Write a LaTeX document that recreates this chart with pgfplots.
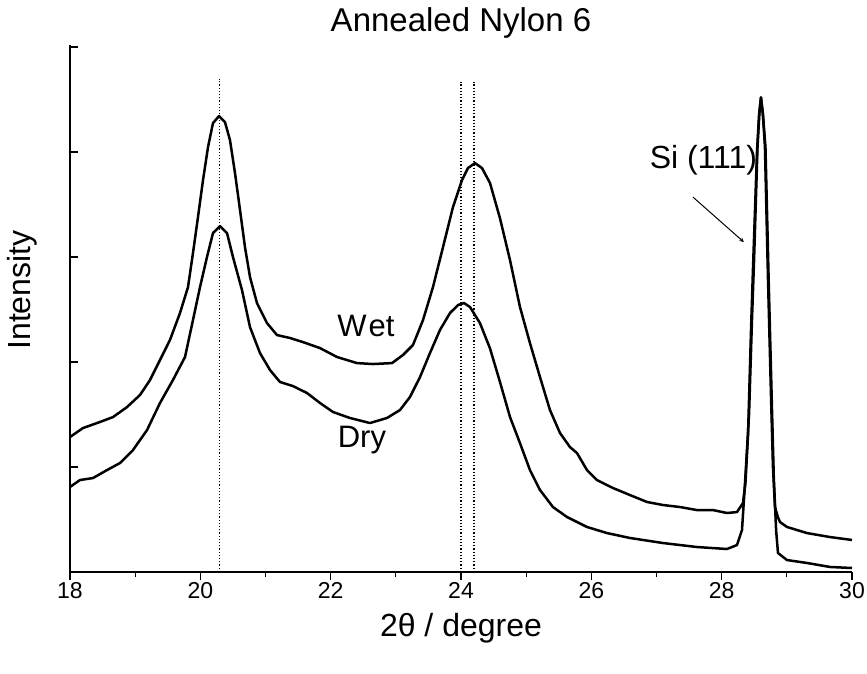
\documentclass[border=0pt]{standalone}
\usepackage{pgfplots}
\pgfplotsset{compat=1.18}
\usepackage{fontspec}
\setmainfont{Liberation Sans}
\begin{document}
\begin{tikzpicture}
\useasboundingbox (-70pt,-101pt) rectangle (797pt,572pt);
\begin{axis}[
  scale only axis, width=782pt, height=527pt,
  xmin=18, xmax=30, ymin=0, ymax=5.02,
  axis lines=left, axis line style={-, line width=1.2pt},
  xtick={18,20,...,30}, minor x tick num=1,
  ytick={0,1,2,3,4,5}, yticklabels={},
  xtick align=outside, ytick align=inside,
  major tick length=8pt, minor tick length=5pt,
  tick style={line width=1.2pt, black},
  /pgf/number format/assume math mode=true,
  ticklabel style={font=\fontsize{23}{27}\selectfont},
  xticklabel style={yshift=1pt},
  xlabel={2θ / degree},
  ylabel={Intensity},
  title={Annealed Nylon 6},
  label style={font=\fontsize{32}{38}\selectfont},
  xlabel style={at={(rel axis cs:0.5,0)}, anchor=center, yshift=-56pt},
  ylabel style={at={(rel axis cs:0,0.535)}, anchor=center, yshift=48pt},
  title style={font=\fontsize{33}{40}\selectfont, at={(rel axis cs:0.5,1)}, anchor=center, yshift=16pt},
  clip=false,
]
% dotted reference lines
\addplot[black, dotted, line width=1.2pt] coordinates {(20.3,0) (20.3,4.70)};
\addplot[black, dotted, line width=1.2pt] coordinates {(24.0,0) (24.0,4.67)};
\addplot[black, dotted, line width=1.2pt] coordinates {(24.2,0) (24.2,4.67)};
% Wet
\addplot[black, line width=2.5pt, line join=round] coordinates {
(18.000,1.286) (18.199,1.371) (18.460,1.429) (18.660,1.476) (18.875,1.571) (19.074,1.686)
(19.228,1.829) (19.381,2.019) (19.534,2.210) (19.688,2.467) (19.811,2.714) (19.887,3.038)
(19.964,3.381) (20.041,3.733) (20.118,4.048) (20.194,4.276) (20.286,4.343) (20.378,4.286)
(20.455,4.114) (20.532,3.800) (20.609,3.448) (20.685,3.095) (20.762,2.810) (20.869,2.562)
(21.023,2.371) (21.176,2.257) (21.376,2.229) (21.575,2.190) (21.836,2.133) (22.097,2.048)
(22.404,1.990) (22.649,1.981) (22.941,1.990) (23.110,2.067) (23.263,2.162) (23.417,2.400)
(23.570,2.714) (23.724,3.095) (23.877,3.476) (24.015,3.733) (24.107,3.848) (24.215,3.895)
(24.322,3.848) (24.445,3.705) (24.598,3.370) (24.752,2.971) (24.905,2.524) (25.058,2.181)
(25.212,1.857) (25.365,1.543) (25.519,1.324) (25.672,1.190) (25.780,1.133) (25.933,0.971)
(26.087,0.876) (26.332,0.800) (26.593,0.733) (26.854,0.667) (27.099,0.638) (27.360,0.619)
(27.621,0.590) (27.867,0.590) (28.081,0.562) (28.235,0.571) (28.327,0.657) (28.365,0.850)
(28.404,1.300) (28.450,2.300) (28.481,2.900) (28.542,4.000) (28.573,4.350) (28.603,4.520)
(28.634,4.350) (28.664,4.048) (28.710,2.810) (28.756,1.700) (28.787,1.000) (28.818,0.620)
(28.864,0.520) (28.895,0.476) (29.002,0.429) (29.309,0.371) (29.662,0.333) (30.000,0.305)
};
% Dry
\addplot[black, line width=2.5pt, line join=round] coordinates {
(18.000,0.810) (18.153,0.876) (18.353,0.895) (18.568,0.971) (18.767,1.038) (18.967,1.162)
(19.182,1.352) (19.381,1.610) (19.580,1.829) (19.765,2.048) (19.887,2.400) (19.995,2.714)
(20.102,3.000) (20.194,3.229) (20.302,3.295) (20.409,3.229) (20.501,3.000) (20.639,2.686)
(20.762,2.333) (20.915,2.086) (21.069,1.924) (21.222,1.810) (21.422,1.771) (21.637,1.705)
(21.836,1.610) (22.036,1.524) (22.296,1.467) (22.603,1.419) (22.864,1.467) (23.064,1.543)
(23.217,1.667) (23.371,1.857) (23.524,2.086) (23.677,2.305) (23.831,2.467) (23.954,2.543)
(24.046,2.562) (24.138,2.524) (24.291,2.371) (24.445,2.130) (24.598,1.810) (24.752,1.476)
(24.905,1.228) (25.058,0.971) (25.212,0.781) (25.411,0.619) (25.626,0.524) (25.933,0.429)
(26.240,0.371) (26.593,0.324) (27.099,0.276) (27.621,0.238) (28.081,0.219) (28.235,0.257)
(28.312,0.400) (28.358,0.848) (28.420,1.500) (28.465,2.400) (28.496,2.950) (28.550,4.050)
(28.580,4.380) (28.603,4.520) (28.630,4.380) (28.672,4.048) (28.720,2.810) (28.770,1.600)
(28.800,0.900) (28.835,0.400) (28.864,0.181) (29.002,0.114) (29.309,0.086) (29.662,0.048)
(30.000,0.038)
};
\node[font=\fontsize{31}{37}\selectfont] at (axis cs:22.54,2.343) {W\kern2pt et};
\node[font=\fontsize{31}{37}\selectfont] at (axis cs:22.48,1.257) {Dry};
\node[font=\fontsize{32}{38}\selectfont] at (axis cs:27.72,3.924) {Si (111)};
\draw[-stealth, line width=1pt] (axis cs:27.56,3.571) -- (axis cs:28.34,3.143);
\end{axis}
\end{tikzpicture}
\end{document}
